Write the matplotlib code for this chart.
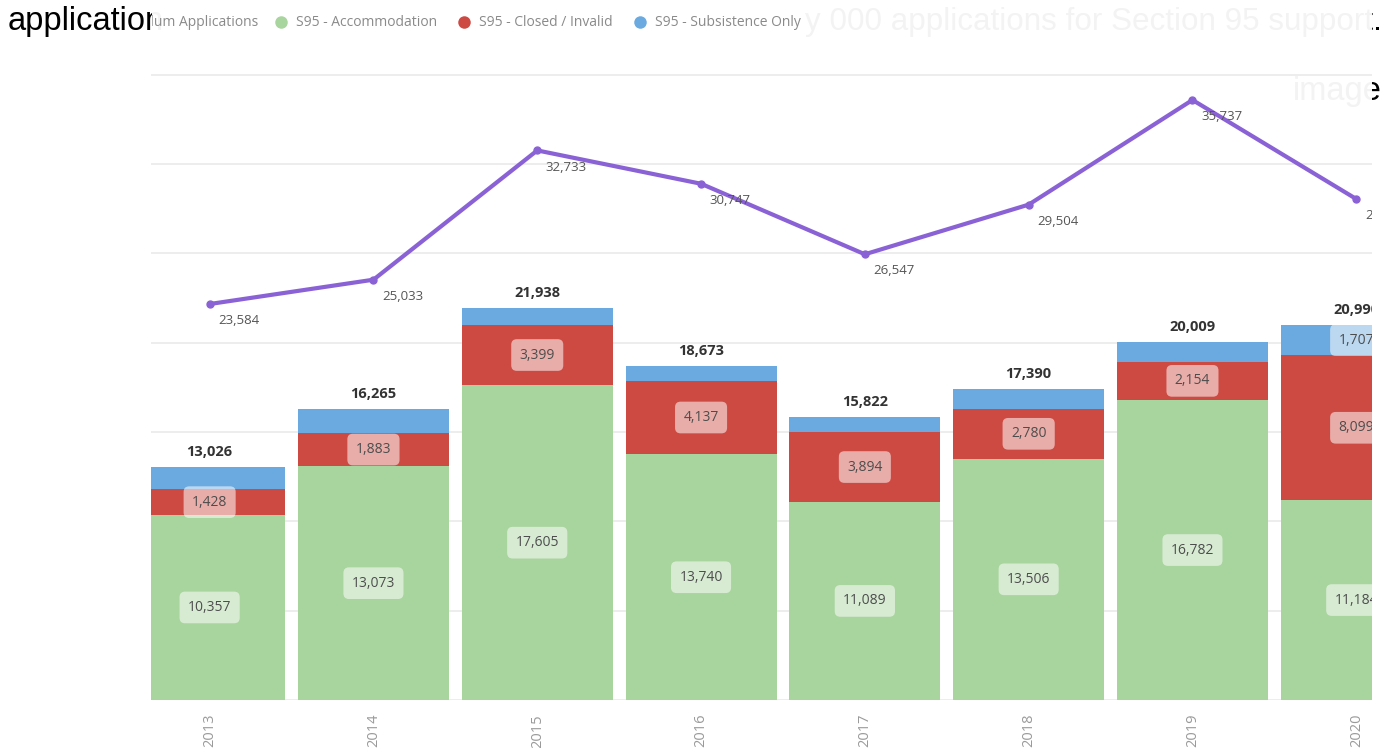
import matplotlib
matplotlib.use('Agg')
from matplotlib import pyplot as plt

years = ['2013', '2014', '2015', '2016', '2017', '2018', '2019', '2020']
accommodation = [10357, 13073, 17605, 13740, 11089, 13506, 16782, 11184]
closed_invalid = [1428, 1883, 3399, 4137, 3894, 2780, 2154, 8099]
subsistence = [1241, 1309, 934, 796, 839, 1104, 1073, 1707]
asylum_applications = [23584, 25033, 32733, 30747, 26547, 29504, 35737, 29840]

W, H = 1389, 748
GREEN = '#a8d49e'
RED = '#cd4a43'
BLUE = '#6aaae0'
PURPLE = '#8a62d6'
CHART_FONT = 'Open Sans'
DOC_FONT = 'Liberation Sans'


def px_rect(x0, y0, x1, y1):
    '''
    Figure rectangle from pixel corners (top-left origin)
    '''
    return [x0 / W, 1 - y1 / H, (x1 - x0) / W, (y1 - y0) / H]


def hide_frame(ax):
    '''
    Remove spines and ticks, keep the background patch
    '''
    ax.set_xticks([])
    ax.set_yticks([])
    for spine in ax.spines.values():
        spine.set_visible(False)


def draw_document(fig):
    '''
    The page text the chart screenshot was pasted over
    '''
    doc = fig.add_axes([0, 0, 1, 1], zorder=0)
    doc.set_axis_off()
    doc.set_xlim(0, W)
    doc.set_ylim(H, 0)
    style = dict(family=DOC_FONT, color='black', va='baseline')
    doc.text(8, 30, 'application', ha='left', fontsize=23.5, **style)
    doc.text(1382, 30, 'y 000 applications for Section 95 support.', ha='right',
             fontsize=22.6, **style)
    doc.text(1382, 100, 'image', ha='right', fontsize=23.5, **style)


def draw_background(fig):
    '''
    Nearly opaque chart image background with the clipped legend
    '''
    bg = fig.add_axes(px_rect(152, 0, 1372, H), zorder=1)
    bg.set_xlim(152, 1372)
    bg.set_ylim(H, 0)
    bg.set_facecolor((1, 1, 1, 0.955))
    hide_frame(bg)
    legend_style = dict(fontsize=10, family=CHART_FONT, color='#8a8a8a',
                        va='center', clip_on=True, clip_box=bg.bbox)
    bg.text(258, 22, 'Asylum Applications', ha='right', **legend_style)
    entries = [(281, GREEN, 'S95 - Accommodation'),
               (464, RED, 'S95 - Closed / Invalid'),
               (640, BLUE, 'S95 - Subsistence Only')]
    for pos, color, label in entries:
        bg.plot(pos, 22, 'o', ms=9, color=color, mec='none')
        bg.text(pos + 15, 22, label, ha='left', **legend_style)


def build_graph():
    '''
    Build the final graph
    '''
    fig = plt.figure(figsize=(W / 100, H / 100), dpi=100)
    draw_document(fig)
    draw_background(fig)

    ax = fig.add_axes(px_rect(151, 50, 1372, 700), zorder=2)
    ax.set_facecolor('none')
    x = list(range(len(years)))
    width = 0.922
    ax.bar(x, accommodation, width=width, color=GREEN)
    ax.bar(x, closed_invalid, width=width, bottom=accommodation, color=RED)
    lower = [a + c for a, c in zip(accommodation, closed_invalid)]
    ax.bar(x, subsistence, width=width, bottom=lower, color=BLUE)

    ax.set_xlim(-0.358, 7.096)
    ax.set_ylim(0, 650 / 17.87 * 1000)
    ax.set_yticks(range(0, 35001, 5000))
    ax.tick_params(axis='y', length=0, labelleft=False)
    ax.grid(axis='y', color='#ececec', lw=1.3)
    ax.set_axisbelow(True)
    ax.set_xticks(x, years, rotation=90, color='#9a9a9a', fontsize=10.5,
                  family=CHART_FONT)
    ax.tick_params(axis='x', length=0, pad=10)
    for spine in ax.spines.values():
        spine.set_visible(False)

    box = dict(boxstyle='round,pad=0.6,rounding_size=0.4', fc='white',
               alpha=0.55, ec='none')
    label_style = dict(ha='center', va='center', fontsize=10, color='#4d4d4d',
                       family=CHART_FONT, bbox=box, clip_on=True,
                       clip_box=ax.bbox)
    for i in x:
        ax.text(i, accommodation[i] / 2, f'{accommodation[i]:,}', **label_style)
        ax.text(i, accommodation[i] + closed_invalid[i] / 2,
                f'{closed_invalid[i]:,}', **label_style)
        if subsistence[i] > 1500:
            ax.text(i, lower[i] + subsistence[i] / 2, f'{subsistence[i]:,}',
                    **label_style)
        total = lower[i] + subsistence[i]
        ax.annotate(f'{total:,}', (i, total), xytext=(0, 6),
                    textcoords='offset points', ha='center', va='bottom',
                    fontsize=10.5, fontweight='bold', color='#333333',
                    family=CHART_FONT, clip_on=True, clip_box=ax.bbox)

    ax2 = ax.twinx()
    ax2.set_zorder(3)
    ax2.patch.set_visible(False)
    ax2.set_ylim(0, 650 / 16.79 * 1000)
    ax2.plot(x, asylum_applications, color=PURPLE, lw=3, marker='o', ms=5)
    ax2.set_yticks([])
    for spine in ax2.spines.values():
        spine.set_visible(False)
    for i in x:
        ax2.annotate(f'{asylum_applications[i]:,}', (i, asylum_applications[i]),
                     xytext=(21, -12), textcoords='offset points',
                     ha='center', va='center', fontsize=9.5, color='#555555',
                     family=CHART_FONT, clip_on=True, clip_box=ax2.bbox)

    fig.savefig('out.png', dpi=100)


if __name__ == '__main__':
    build_graph()
